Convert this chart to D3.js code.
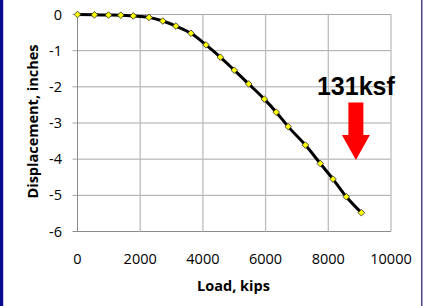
<!DOCTYPE html>
<html>
<head>
<meta charset="utf-8">
<script src="https://cdn.jsdelivr.net/npm/d3@7"></script>
<style>
  body { margin: 0; background: #fff; }
  svg { display: block; }
</style>
</head>
<body>
<div id="chart"></div>
<script>
// load-settlement readings
const loads = [0, 540, 990, 1380, 1780, 2280, 2720, 3140, 3620, 4100, 4555,
    5000, 5460, 5960, 6340, 6720, 7270, 7745, 8150, 8575, 9055];
const displacements = [0, -0.01, -0.015, -0.02, -0.04, -0.08, -0.18, -0.32, -0.52, -0.84, -1.18,
    -1.54, -1.92, -2.34, -2.70, -3.10, -3.61, -4.12, -4.55, -5.04, -5.48];
const xTicks = [0, 2000, 4000, 6000, 8000, 10000];
const yTicks = [0, -1, -2, -3, -4, -5, -6];

// annotation (data units)
const noteText = "131ksf";
const noteLoad = 8880;
const noteTop = -2.43;
const noteBottom = -4.02;

const width = 425, height = 306;

const svg = d3.select("#chart")
    .append("svg")
    .attr("width", width)
    .attr("height", height);

svg.append("rect").attr("width", width).attr("height", height).attr("fill", "#fff");

// frame
svg.append("rect").attr("x", 0).attr("y", 0).attr("width", 3).attr("height", height).attr("fill", "#0a0a8e");
svg.append("rect").attr("x", 3).attr("y", 0).attr("width", 1).attr("height", height).attr("fill", "#c8c8e8");
svg.append("rect").attr("x", 421).attr("y", 0).attr("width", 1.5).attr("height", height).attr("fill", "#4e4488");

const x = d3.scaleLinear().domain([0, 10000]).range([77.5, 391]);
const y = d3.scaleLinear().domain([-6, 0]).range([231.5, 14.5]);

const tickFont = "'Open Sans', sans-serif";

// gridlines
svg.append("g")
    .selectAll("line")
    .data(yTicks)
    .enter()
    .append("line")
    .attr("x1", x(0) - 5)
    .attr("x2", x(10000))
    .attr("y1", (d) => y(d))
    .attr("y2", (d) => y(d))
    .attr("stroke", (d) => d === -6 ? "#8c8c8c" : "#a8a8a8")
    .attr("stroke-width", 1);

svg.append("g")
    .selectAll("line")
    .data(xTicks)
    .enter()
    .append("line")
    .attr("x1", (d) => x(d))
    .attr("x2", (d) => x(d))
    .attr("y1", y(0))
    .attr("y2", y(-6))
    .attr("stroke", (d) => d === 0 ? "#8c8c8c" : "#bdbdbd")
    .attr("stroke-width", (d) => d === 0 ? 1 : 1.3);

// y tick labels
svg.append("g")
    .selectAll("text")
    .data(yTicks)
    .enter()
    .append("text")
    .attr("x", 62)
    .attr("y", (d) => y(d))
    .attr("dy", "0.35em")
    .attr("text-anchor", "end")
    .style("font-family", tickFont)
    .style("font-size", "14.5px")
    .attr("fill", "#000")
    .text((d) => d);

// x tick labels
svg.append("g")
    .selectAll("text")
    .data(xTicks)
    .enter()
    .append("text")
    .attr("x", (d) => x(d))
    .attr("y", 264)
    .attr("text-anchor", "middle")
    .style("font-family", tickFont)
    .style("font-size", "14.5px")
    .attr("fill", "#000")
    .text((d) => d);

// axis titles
svg.append("text")
    .attr("x", 233.5)
    .attr("y", 291)
    .attr("text-anchor", "middle")
    .style("font-family", tickFont)
    .style("font-size", "14.5px")
    .style("font-weight", "bold")
    .text("Load, kips");

svg.append("text")
    .attr("transform", "translate(37.5,121.5) rotate(-90)")
    .attr("text-anchor", "middle")
    .style("font-family", tickFont)
    .style("font-size", "14.5px")
    .style("font-weight", "bold")
    .text("Displacement, inches");

// curve
const points = loads.map((d, i) => ({ load: d, disp: displacements[i] }));

const line = d3.line()
    .x((d) => x(d.load))
    .y((d) => y(d.disp))
    .curve(d3.curveMonotoneX);

svg.append("path")
    .datum(points)
    .attr("d", line)
    .attr("fill", "none")
    .attr("stroke", "#000")
    .attr("stroke-width", 3);

const diamond = d3.symbol().type(d3.symbolSquare).size(22);

svg.append("g")
    .selectAll("path")
    .data(points)
    .enter()
    .append("path")
    .attr("d", diamond)
    .attr("transform", (d) => `translate(${x(d.load)},${y(d.disp)}) rotate(45)`)
    .attr("fill", "#ffff00")
    .attr("stroke", "#333")
    .attr("stroke-width", 0.8);

// note + arrow
svg.append("text")
    .attr("x", x(noteLoad))
    .attr("y", y(noteTop) - 7)
    .attr("text-anchor", "middle")
    .style("font-family", "'Liberation Sans', Arial, sans-serif")
    .style("font-size", "25px")
    .style("font-weight", "bold")
    .attr("fill", "#000")
    .text(noteText);

const ax = x(noteLoad), at = y(noteTop), ab = y(noteBottom);
const headH = 25;
svg.append("path")
    .attr("d", `M${ax - 7.5},${at} L${ax + 7.5},${at} L${ax + 7.5},${ab - headH} L${ax + 14},${ab - headH}
        L${ax},${ab} L${ax - 14},${ab - headH} L${ax - 7.5},${ab - headH} Z`)
    .attr("fill", "#ff0000");
</script>
</body>
</html>
